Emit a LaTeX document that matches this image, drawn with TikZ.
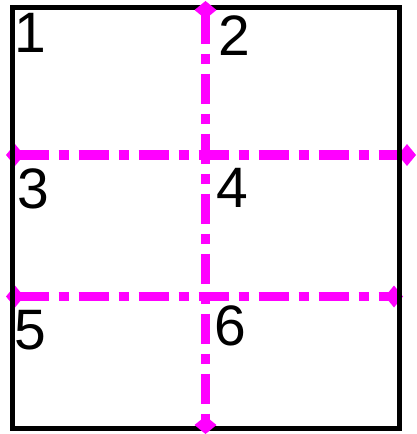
\documentclass[tikz,border=0pt]{standalone}
\usepackage{fontspec}
\setmainfont{Liberation Sans}
\begin{document}
\begin{tikzpicture}[x=1pt,y=-1pt,
  frame/.style={draw=black,line width=4.6pt},
  guide/.style={draw=magenta,line width=9.6pt,dash pattern=on 30pt off 10pt on 10pt off 10pt,dash phase=56.5pt},
  tipshape/.style={fill=magenta},
  num/.style={anchor=base west,inner sep=0pt,font=\fontsize{57}{57}\selectfont}]
\definecolor{magenta}{RGB}{255,0,255}
\useasboundingbox (0,0) rectangle (416,434);
% horizontal guides
\coordinate (h1a) at (15,155);
\coordinate (h1b) at (407,155);
\coordinate (h2a) at (15,296.5);
\coordinate (h2b) at (394,296.5);
\coordinate (va) at (205.5,10);
\coordinate (vb) at (205.5,425);
\path[guide] (h1a) -- (h1b);
\path[guide] (h2a) -- (h2b);
\foreach \c in {h1a,h1b,h2a,h2b}{
  \fill[tipshape] (\c) ++(-9,0) -- ++(9,-11) -- ++(9,11) -- ++(-9,11) -- cycle;
}
% frame
\draw[frame] (12.5,7.2) rectangle (399.3,428.5);
% vertical guide
\path[guide] (va) -- (vb);
\foreach \c in {va,vb}{
  \fill[tipshape] (\c) ++(0,-9) -- ++(11,9) -- ++(-11,9) -- ++(-11,-9) -- cycle;
}
% labels
\node[num] (n1) at (13.8,52) {1};
\node[num] (n2) at (218.3,55) {2};
\node[num] (n3) at (17.6,208) {3};
\node[num] (n4) at (216.3,207) {4};
\node[num] (n5) at (14.6,349) {5};
\node[num] (n6) at (213.9,345) {6};
\end{tikzpicture}
\end{document}
